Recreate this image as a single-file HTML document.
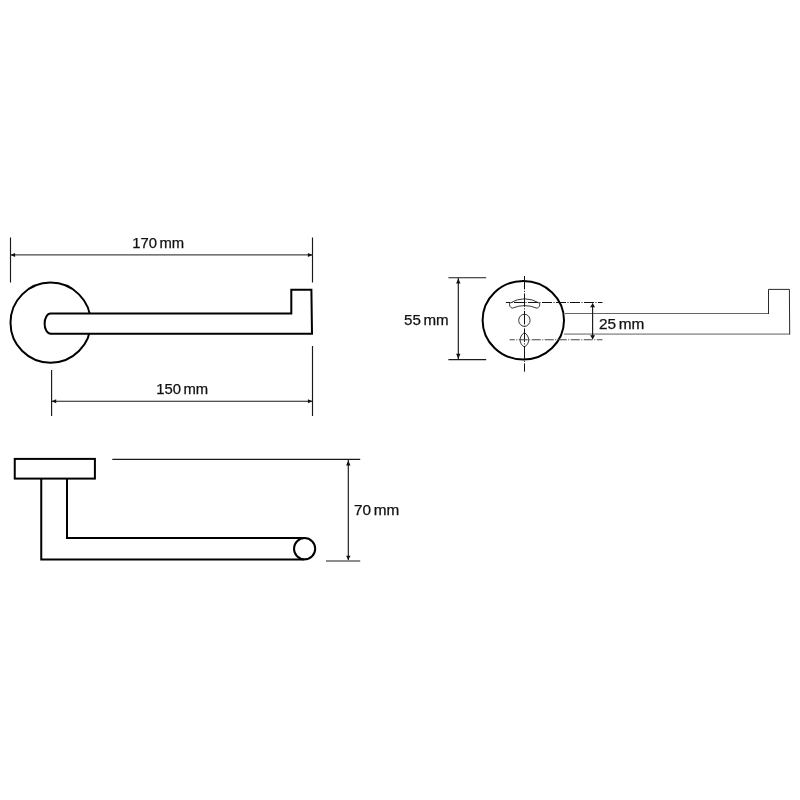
<!DOCTYPE html>
<html>
<head>
<meta charset="utf-8">
<title>Dimensions</title>
<style>
html,body{margin:0;padding:0;background:#fff;}
body{width:800px;height:800px;overflow:hidden;}
svg{display:block;will-change:transform;}
text{font-family:"Liberation Sans",sans-serif;font-size:14px;fill:#111;stroke:#111;stroke-width:0.25;word-spacing:-1.5px;}
.h{fill:none;stroke:#000;stroke-width:2;}
.w{fill:#fff;}
.d{fill:none;stroke:#1a1a1a;stroke-width:1.15;}
.t{fill:none;stroke:#222;stroke-width:0.9;}
.c{fill:none;stroke:#111;stroke-width:1;}
.a{fill:#111;stroke:none;}
</style>
</head>
<body>
<svg width="800" height="800" viewBox="0 0 800 800">

<!-- top-left view -->
<circle class="h" cx="50.6" cy="322.7" r="40.1"/>
<path class="h w" d="M50.6 313.6 H291.3 V289.8 H311.4 L312 333.8 H50.6 A6 10.1 0 0 1 50.6 313.6 Z"/>
<!-- 170 dim -->
<path class="d" d="M10.5 237.5 V282.5 M312.5 237.5 V282.5"/>
<path class="d" style="stroke:#484848" d="M10.5 254.9 H312.5"/>
<path class="a" d="M10.5 254.9 l4.6 -2 v4 z M312.5 254.9 l-4.6 -2 v4 z"/>
<text x="132.2" y="248.3" textLength="52" lengthAdjust="spacingAndGlyphs">170 mm</text>
<!-- 150 dim -->
<path class="d" d="M51.6 370 V416 M312.5 346 V416 M51.6 401.25 H312.5"/>
<path class="a" d="M51.6 401.25 l4.6 -2 v4 z M312.5 401.25 l-4.6 -2 v4 z"/>
<text x="156.2" y="393.8" textLength="52" lengthAdjust="spacingAndGlyphs">150 mm</text>

<!-- bottom-left view -->
<rect class="h" x="14.75" y="458.9" width="80.15" height="19.7"/>
<path class="h" d="M41.25 478.6 V559.4 H304.6 M67 478.6 V538 H304.6"/>
<circle class="h w" cx="304.6" cy="548.7" r="10.6"/>
<!-- 70 dim -->
<path class="d" d="M112.3 459.4 H360.2 M326 561 H360.2 M348.3 460 V560"/>
<path class="a" d="M348.3 460.4 l-2.2 5 h4.4 z M348.3 560 l-2.2 -4.2 h4.4 z"/>
<text x="354" y="514.8" textLength="45.2" lengthAdjust="spacingAndGlyphs">70 mm</text>

<!-- right view -->
<path d="M565 313.5 H768.5" fill="none" stroke="#666" stroke-width="1"/>
<path d="M564 334.1 H789.8" fill="none" stroke="#a4a4a4" stroke-width="1.7"/>
<path class="t" style="stroke:#111" d="M768.5 314 V289.4 H789.4 L789.7 334.4"/>
<ellipse class="h" cx="523.3" cy="320.2" rx="40.7" ry="39.3"/>
<!-- centre lines -->
<path class="c" style="stroke-dasharray:13.5 1.5 1 1.5" d="M524.5 275.9 V371.7"/>
<path class="c" style="stroke-dasharray:10 1.5 1 1.5;stroke-dashoffset:5.9" d="M505.9 302.5 H602.5"/>
<path class="c" style="stroke-dasharray:9 1.5 1 1.5;stroke-dashoffset:3.85;stroke:#444;stroke-width:1.1" d="M509.6 339.75 H602.5"/>
<!-- slot, hole, ellipse -->
<path class="t" d="M509.7 303.2 Q524.6 294.4 539.6 303.2 Q540.4 306.9 537 308.2 Q524.6 303 512.2 308.2 Q508.9 306.9 509.7 303.2 Z"/>
<ellipse class="t" cx="524.4" cy="320.3" rx="5.7" ry="6.05"/>
<path class="t" d="M524.4 332.5 C521.5 334.5 520.1 337.5 520.1 339.8 C520.1 342.5 521.5 345.3 524.4 347.1 C527.3 345.3 528.7 342.5 528.7 339.8 C528.7 337.5 527.3 334.5 524.4 332.5 Z"/>
<!-- 25 dim -->
<path class="d" d="M592.6 303.5 V339"/>
<path class="a" d="M592.6 303.3 l-2.5 4 h5 z M592.6 339.2 l-2.5 -4 h5 z"/>
<text x="598.9" y="328.8" textLength="45.4" lengthAdjust="spacingAndGlyphs">25 mm</text>
<!-- 55 dim -->
<path class="d" d="M448.4 277.7 H486.2 M448.4 359.6 H486.2 M458.3 278.3 V359"/>
<path class="a" d="M458.3 278.5 l-2.2 5 h4.4 z M458.3 358.8 l-2.2 -5 h4.4 z"/>
<text x="404" y="324.9" textLength="44.6" lengthAdjust="spacingAndGlyphs">55 mm</text>
</svg>
</body>
</html>
